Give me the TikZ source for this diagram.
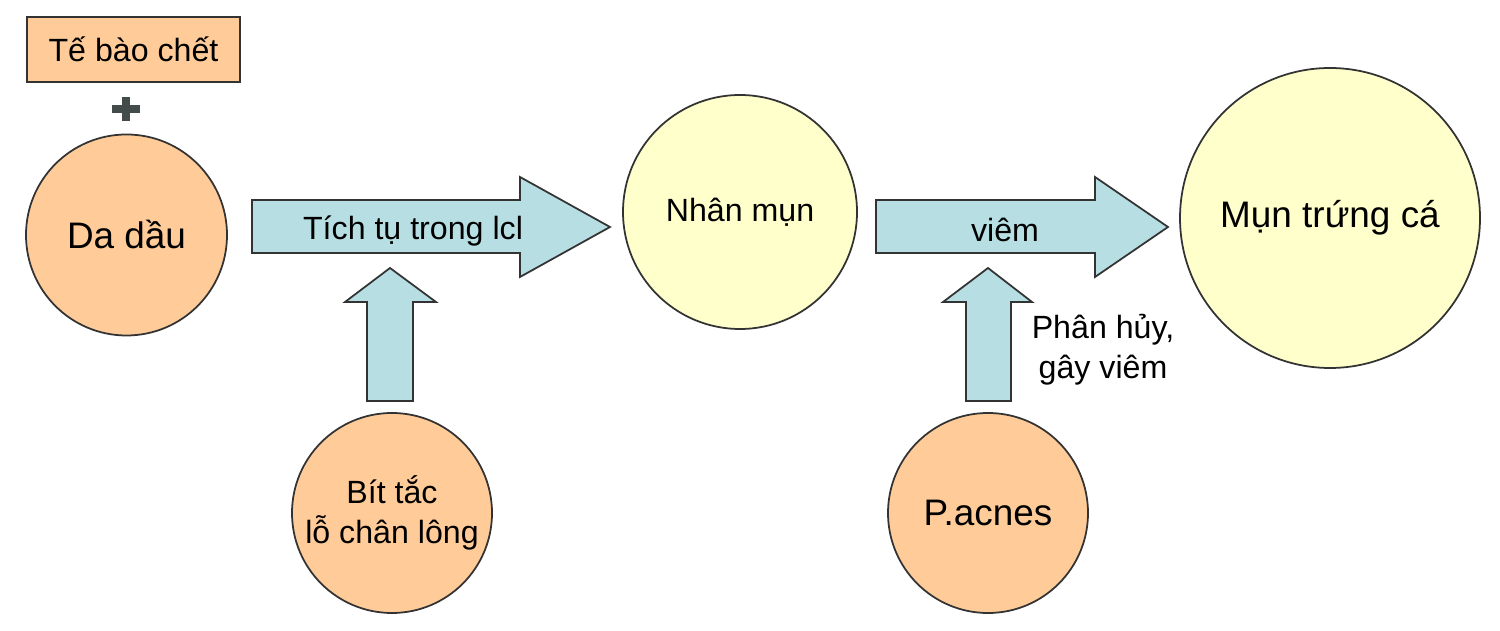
\documentclass[tikz,border=0pt]{standalone}
\usepackage{fontspec}
\setmainfont{Liberation Sans}
\usetikzlibrary{positioning}

\definecolor{cellorange}{HTML}{FFCC99}
\definecolor{acneyellow}{HTML}{FFFFCC}
\definecolor{flowblue}{HTML}{B7DFE3}
\definecolor{edgegray}{HTML}{333333}
\definecolor{plusgray}{HTML}{434C4A}

\begin{document}
\begin{tikzpicture}[
  causecircle/.style={circle, draw=edgegray, line width=1pt, fill=cellorange,
    inner sep=0pt, align=center},
  resultcircle/.style={circle, draw=edgegray, line width=1pt, fill=acneyellow,
    inner sep=0pt, align=center},
  flowarrow/.style={draw=edgegray, line width=1pt, fill=flowblue, line join=miter},
  smalltext/.style={font=\fontsize{18.3}{22.8}\selectfont},
  bigtext/.style={font=\fontsize{21}{25}\selectfont}
  ]
  \useasboundingbox (0,0) rectangle (30,12.62);

  % nguyen nhan
  \node[draw=edgegray, line width=1pt, fill=cellorange, minimum width=4.26cm,
    minimum height=1.3cm, smalltext] (tebao) at (2.67,11.63) {Tế bào chết};
  \fill[plusgray] (2.24,10.36) rectangle (2.80,10.52);
  \fill[plusgray] (2.44,10.20) rectangle (2.60,10.68);
  \node[causecircle, minimum size=4.02cm, bigtext] (dadau) at (2.53,7.92) {Da dầu};
  \node[causecircle, minimum size=4cm, smalltext] (bittac) at (7.84,2.36)
    {Bít tắc\\lỗ chân lông};
  \node[causecircle, minimum size=4cm, bigtext] (pacnes) at (19.76,2.36) {P.acnes};

  % ket qua
  \node[resultcircle, minimum size=4.68cm, smalltext] (nhanmun) at (14.8,8.38) {Nhân mụn};
  \node[resultcircle, minimum size=6cm, bigtext] (muntrung) at (26.6,8.26) {Mụn trứng cá};

  % mui ten ngang
  \draw[flowarrow] (5.04,8.62) -- (10.4,8.62) -- (10.4,9.08) -- (12.2,8.08)
    -- (10.4,7.08) -- (10.4,7.56) -- (5.04,7.56) -- cycle;
  \node[smalltext] (tichtu) at (8.26,8.0) {Tích tụ trong lcl};

  \draw[flowarrow] (17.52,8.62) -- (21.9,8.62) -- (21.9,9.08) -- (23.36,8.08)
    -- (21.9,7.08) -- (21.9,7.56) -- (17.52,7.56) -- cycle;
  \node[smalltext] (viem) at (20.1,8.02) {viêm};

  % mui ten doc
  \draw[flowarrow] (7.34,4.6) -- (7.34,6.58) -- (6.9,6.58) -- (7.8,7.26)
    -- (8.72,6.58) -- (8.26,6.58) -- (8.26,4.6) -- cycle;
  \draw[flowarrow] (19.32,4.6) -- (19.32,6.58) -- (18.86,6.58) -- (19.76,7.26)
    -- (20.64,6.58) -- (20.22,6.58) -- (20.22,4.6) -- cycle;
  \node[smalltext, align=center] (phanhuy) at (22.06,5.62) {Phân hủy,\\gây viêm};
\end{tikzpicture}
\end{document}
